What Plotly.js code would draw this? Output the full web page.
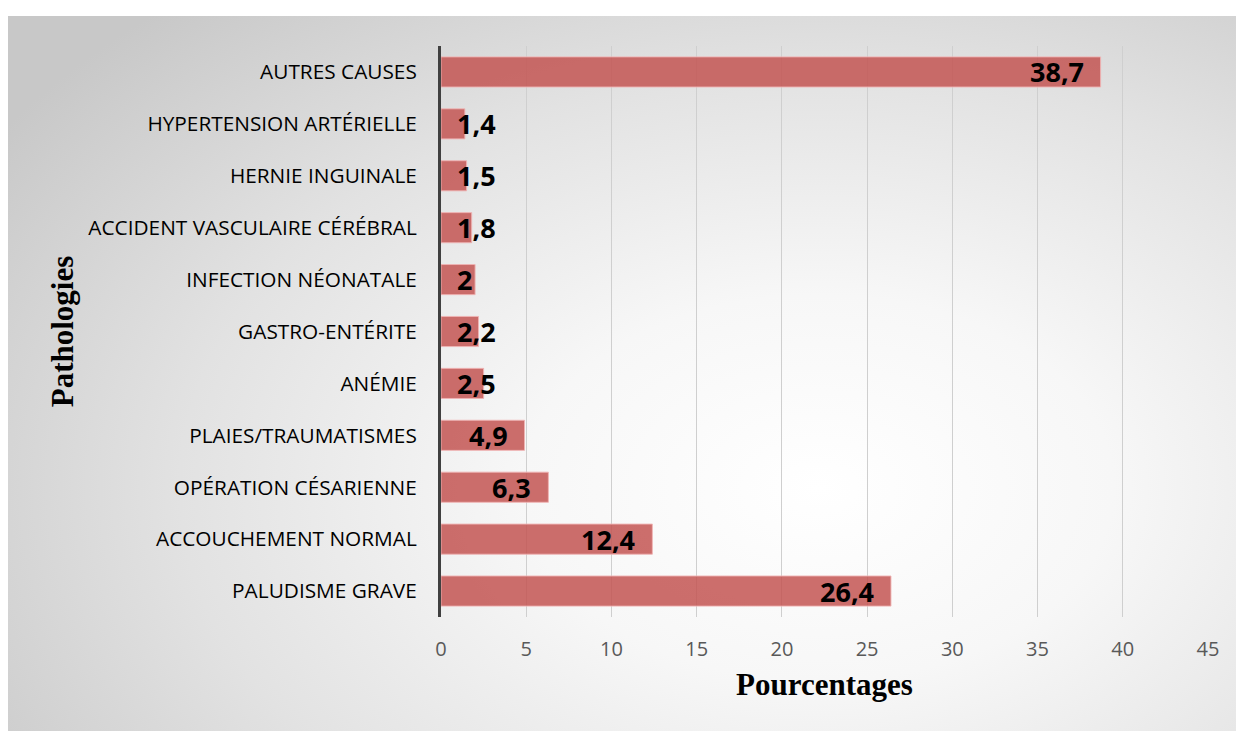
<!DOCTYPE html>
<html><head><meta charset="utf-8">
<script src="https://cdn.plot.ly/plotly-3.0.1.min.js"></script>
<style>
html,body{margin:0;padding:0;background:#ffffff;}
#bg{position:absolute;left:8px;top:16px;width:1228px;height:715px;
background:radial-gradient(ellipse 80% 90% at 66% 66%, #ffffff 0%, #f7f7f7 30%, #e2e2e2 65%, #c8c8c8 100%);}
#chart{position:absolute;left:0;top:0;width:1236px;height:731px;}
</style></head>
<body>
<div id="bg"></div>
<div id="chart"></div>
<script>
const categories = ["PALUDISME GRAVE","ACCOUCHEMENT NORMAL","OPÉRATION CÉSARIENNE","PLAIES/TRAUMATISMES","ANÉMIE","GASTRO-ENTÉRITE","INFECTION NÉONATALE","ACCIDENT VASCULAIRE CÉRÉBRAL","HERNIE INGUINALE","HYPERTENSION ARTÉRIELLE","AUTRES CAUSES"];
const values = [26.4,12.4,6.3,4.9,2.5,2.2,2,1.8,1.5,1.4,38.7];
const labels = ["26,4","12,4","6,3","4,9","2,5","2,2","2","1,8","1,5","1,4","38,7"];
const xTicks = [0,5,10,15,20,25,30,35,40,45];

const trace = {
  type:'bar', orientation:'h', x:values, y:categories,
  marker:{color:'rgba(196,86,84,0.86)', line:{color:'rgba(240,180,180,0.9)', width:1}},
  width:0.58, hoverinfo:'skip'
};

// data labels: inside end, clamped to the bar base when they do not fit
const annotations = values.map((v,i)=>{
  const big = v >= 4;
  return {x: big ? v : 0, y: categories[i], xref:'x', yref:'y', text:'<b>'+labels[i]+'</b>',
    showarrow:false, xanchor: big ? 'right':'left', xshift: big ? -15 : 14, yshift:0,
    font:{family:'Open Sans, sans-serif', size:27, color:'#000000'}};
});

const layout = {
  width:1236, height:731,
  paper_bgcolor:'rgba(0,0,0,0)', plot_bgcolor:'rgba(0,0,0,0)',
  margin:{l:441, r:28, t:46, b:114},
  showlegend:false,
  bargap:0.42,
  xaxis:{range:[0,45], tickvals:xTicks, ticktext:xTicks.map(String), showgrid:true, gridcolor:'#cfcfcf', gridwidth:1,
    zeroline:false, showline:false, ticks:'', ticklabelstandoff:18,
    tickfont:{family:'Open Sans, sans-serif', size:20, color:'#595959'},
    title:{text:'Pourcentages', standoff:12, font:{family:'Liberation Serif, Times New Roman, serif', size:31, color:'#000000', weight:'bold'}},
    automargin:false, fixedrange:true},
  yaxis:{categoryorder:'array', categoryarray:categories, range:[-0.5,10.5], showgrid:false, zeroline:false,
    showline:true, linecolor:'#404040', linewidth:3, ticks:'', ticklabelstandoff:17,
    tickfont:{family:'Open Sans, sans-serif', size:20.8, color:'#000000'},
    title:{text:'Pathologies', standoff:6, font:{family:'Liberation Serif, Times New Roman, serif', size:31, color:'#000000', weight:'bold'}},
    automargin:false, fixedrange:true},
  annotations: annotations
};
Plotly.newPlot('chart',[trace],layout,{displayModeBar:false, staticPlot:true});
</script>
</body></html>
